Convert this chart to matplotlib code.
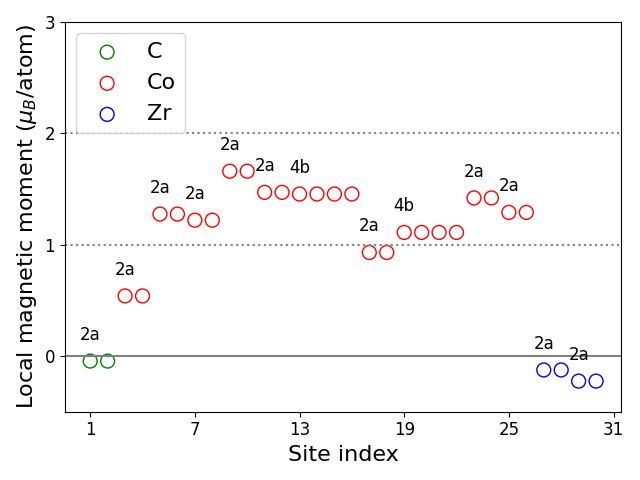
import matplotlib
matplotlib.use("Agg")
import matplotlib.pyplot as plt

# site indices and local magnetic moments (mu_B/atom)
c_sites = [1, 2]
c_moments = [-0.045, -0.045]

co_sites = list(range(3, 27))
co_moments = [0.54, 0.54, 1.275, 1.275, 1.22, 1.22, 1.66, 1.66,
              1.47, 1.47, 1.455, 1.455, 1.455, 1.455, 0.93, 0.93,
              1.11, 1.11, 1.11, 1.11, 1.42, 1.42, 1.29, 1.29]

zr_sites = [27, 28, 29, 30]
zr_moments = [-0.125, -0.125, -0.225, -0.225]

# Wyckoff labels placed above the first site of each group
label_sites = [1, 3, 5, 7, 9, 11, 13, 17, 19, 23, 25, 27, 29]
label_texts = ["2a", "2a", "2a", "2a", "2a", "2a", "4b", "2a", "4b", "2a", "2a", "2a", "2a"]

xticks = [1, 7, 13, 19, 25, 31]
yticks = [0, 1, 2, 3]

fig, ax = plt.subplots(figsize=(6.4, 4.8), dpi=100)

ax.axhline(0, color="gray", lw=1.5)
ax.axhline(1, color="gray", ls=":", lw=1.5)
ax.axhline(2, color="gray", ls=":", lw=1.5)

ax.scatter(c_sites, c_moments, s=100, facecolors="none", edgecolors="green", label="C")
ax.scatter(co_sites, co_moments, s=100, facecolors="none", edgecolors="red", label="Co")
ax.scatter(zr_sites, zr_moments, s=100, facecolors="none", edgecolors="blue", label="Zr")

all_sites = c_sites + co_sites + zr_sites
all_moments = c_moments + co_moments + zr_moments
moment_of = dict(zip(all_sites, all_moments))
for s, t in zip(label_sites, label_texts):
    ax.text(s, moment_of[s] + 0.155, t, ha="center", va="bottom", fontsize=12)

ax.set_ylim(-0.5, 3)
ax.set_xticks(xticks)
ax.set_yticks(yticks)
ax.tick_params(labelsize=12)
ax.set_xlabel("Site index", fontsize=16)
ax.set_ylabel(r"Local magnetic moment ($\mu_B$/atom)", fontsize=16)
ax.legend(loc="upper left", fontsize=16)

fig.tight_layout()
fig.savefig("out.png")
